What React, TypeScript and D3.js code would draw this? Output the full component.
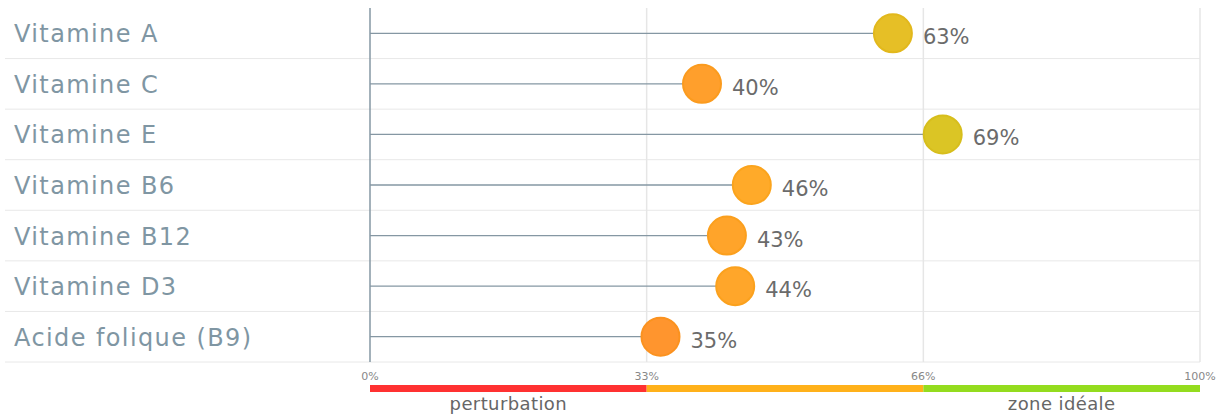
import { select, scaleBand, scaleLinear } from "d3";
import { useEffect, useRef } from "react";

// vitamin levels (share of the ideal zone)
const categories = [
  "Vitamine A",
  "Vitamine C",
  "Vitamine E",
  "Vitamine B6",
  "Vitamine B12",
  "Vitamine D3",
  "Acide folique (B9)",
];
const values = [0.63, 0.4, 0.69, 0.46, 0.43, 0.44, 0.35];
const tickValues = [0, 1 / 3, 2 / 3, 1];
const tickLabels = ["0%", "33%", "66%", "100%"];
const zoneStops = [0, 1 / 3, 2 / 3, 1];
const zoneColors = ["#ff3131", "#ffb11a", "#94dc1e"];
const zoneLabels = ["perturbation", "", "zone idéale"];

const WIDTH = 1221;
const HEIGHT = 416;
const FONT = "'DejaVu Sans', sans-serif";

const App = () => {
  const svgRef = useRef<SVGSVGElement>(null);

  useEffect(() => {
    const svg = select(svgRef.current);
    svg.selectAll("*").remove();

    const xScale = scaleLinear().domain([0, 1]).range([370, 1200]);
    const yScale = scaleBand<number>()
      .domain(categories.map((c, i) => i))
      .range([8, 362]);

    // dot color follows the value
    const dotColor = scaleLinear<string>()
      .domain([0.3, 0.5, 0.75])
      .range(["#ff8c30", "#ffb127", "#cfcb25"]);
    const dotStroke = scaleLinear<string>()
      .domain([0.3, 0.5, 0.75])
      .range(["#fb8a20", "#fbab1c", "#cbc41c"]);

    // row separators
    svg
      .selectAll(".row-line")
      .data(categories)
      .join("line")
      .attr("class", "row-line")
      .attr("x1", 5)
      .attr("x2", 1200)
      .attr("y1", (d, i) => yScale(i)! + yScale.bandwidth())
      .attr("y2", (d, i) => yScale(i)! + yScale.bandwidth())
      .attr("stroke", "#e8e8e8")
      .attr("stroke-width", 1);

    // vertical gridlines
    svg
      .selectAll(".grid")
      .data(tickValues.slice(1))
      .join("line")
      .attr("class", "grid")
      .attr("x1", d => xScale(d))
      .attr("x2", d => xScale(d))
      .attr("y1", 8)
      .attr("y2", 362)
      .attr("stroke", "#e6e6e6")
      .attr("stroke-width", 1.5);

    // axis line
    svg
      .append("line")
      .attr("x1", xScale(0))
      .attr("x2", xScale(0))
      .attr("y1", 8)
      .attr("y2", 362)
      .attr("stroke", "#8597a3")
      .attr("stroke-width", 1.5);

    // category labels
    svg
      .selectAll(".label")
      .data(categories)
      .join("text")
      .attr("class", "label")
      .attr("x", 14)
      .attr("y", (d, i) => yScale(i)! + yScale.bandwidth() / 2 + 9)
      .attr("font-family", FONT)
      .attr("font-size", 24)
      .attr("letter-spacing", 1.4)
      .attr("fill", "#7f96a3")
      .text(d => d);

    // stems
    svg
      .selectAll(".stem")
      .data(values)
      .join("line")
      .attr("class", "stem")
      .attr("x1", xScale(0))
      .attr("x2", d => xScale(d))
      .attr("y1", (d, i) => yScale(i)! + yScale.bandwidth() / 2)
      .attr("y2", (d, i) => yScale(i)! + yScale.bandwidth() / 2)
      .attr("stroke", "#8597a3")
      .attr("stroke-width", 1.3);

    // dots
    svg
      .selectAll(".dot")
      .data(values)
      .join("circle")
      .attr("class", "dot")
      .attr("cx", d => xScale(d))
      .attr("cy", (d, i) => yScale(i)! + yScale.bandwidth() / 2)
      .attr("r", 19)
      .attr("fill", d => dotColor(d))
      .attr("stroke", d => dotStroke(d))
      .attr("stroke-width", 2);

    // value labels
    svg
      .selectAll(".value")
      .data(values)
      .join("text")
      .attr("class", "value")
      .attr("x", d => xScale(d) + 30)
      .attr("y", (d, i) => yScale(i)! + yScale.bandwidth() / 2 + 11)
      .attr("font-family", FONT)
      .attr("font-size", 21)
      .attr("fill", "#6b6b6b")
      .text(d => `${Math.round(d * 100)}%`);

    // tick labels
    svg
      .selectAll(".tick")
      .data(tickValues)
      .join("text")
      .attr("class", "tick")
      .attr("x", d => xScale(d))
      .attr("y", 380)
      .attr("text-anchor", "middle")
      .attr("font-family", FONT)
      .attr("font-size", 11)
      .attr("fill", "#888888")
      .text((d, i) => tickLabels[i]);

    // zone bar
    const zones = zoneColors.map((c, i) => ({
      from: zoneStops[i],
      to: zoneStops[i + 1],
      color: c,
      label: zoneLabels[i],
    }));
    svg
      .selectAll(".zone")
      .data(zones)
      .join("rect")
      .attr("class", "zone")
      .attr("x", d => xScale(d.from))
      .attr("width", d => xScale(d.to) - xScale(d.from))
      .attr("y", 385)
      .attr("height", 7)
      .attr("fill", d => d.color);

    svg
      .selectAll(".zone-label")
      .data(zones)
      .join("text")
      .attr("class", "zone-label")
      .attr("x", d => (xScale(d.from) + xScale(d.to)) / 2)
      .attr("y", 410)
      .attr("text-anchor", "middle")
      .attr("font-family", FONT)
      .attr("font-size", 18)
      .attr("letter-spacing", 0.4)
      .attr("fill", "#666666")
      .text(d => d.label);
  }, []);

  return (
    <div style={{ position: "absolute", left: 0, top: 0 }}>
      <svg ref={svgRef} width={WIDTH} height={HEIGHT} style={{ display: "block" }}></svg>
    </div>
  );
};

export default App;
